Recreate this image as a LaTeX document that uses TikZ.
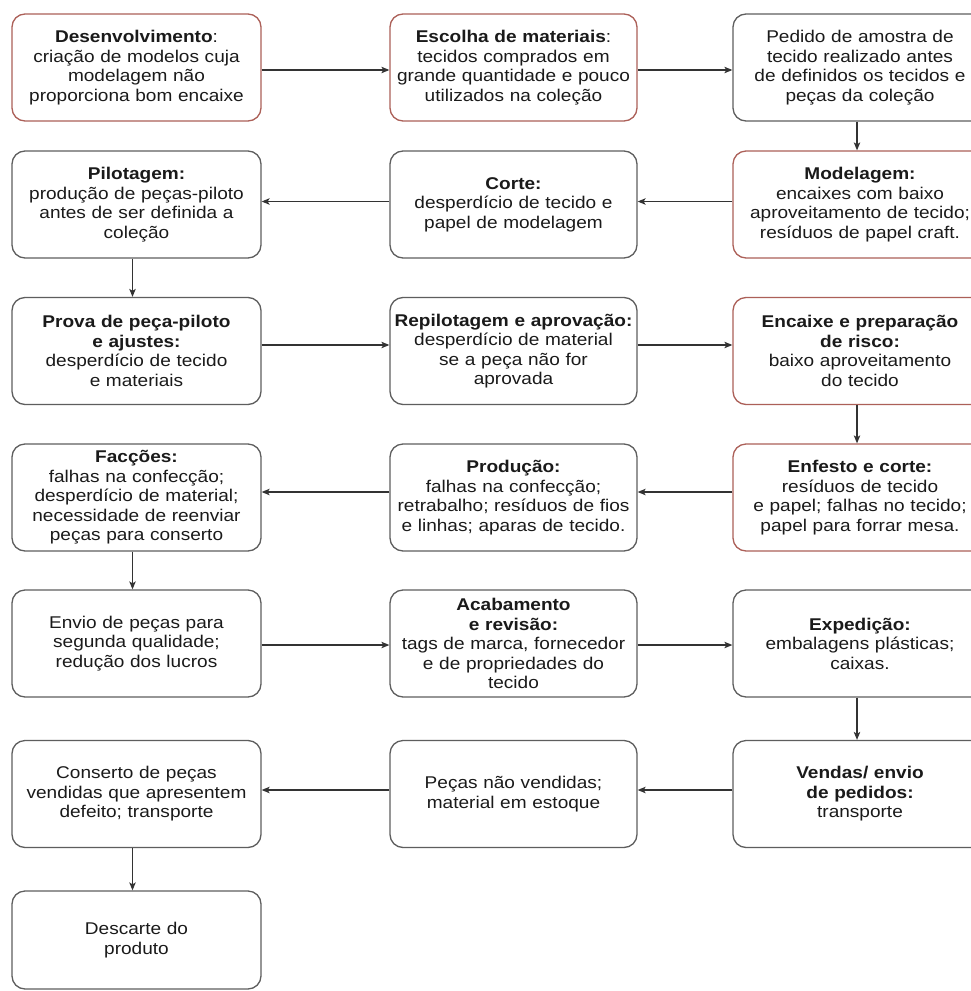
\documentclass[tikz,border=0pt]{standalone}
\usepackage{fontspec}
\setmainfont[FakeStretch=1.12]{Liberation Sans}
\usetikzlibrary{arrows.meta}
\definecolor{boxgray}{HTML}{5E5E5E}
\definecolor{boxred}{RGB}{172,96,88}
\definecolor{arrowgray}{HTML}{333333}
\definecolor{txt}{HTML}{1A1A1A}
\begin{document}
\begin{tikzpicture}[x=1pt,y=-1pt,
  box/.style={draw=boxgray, line width=1.3pt, rounded corners=13pt, fill=white,
    align=center, inner xsep=0pt, inner ysep=0pt, minimum height=107pt,
    text=txt, font=\fontsize{17}{19.5}\selectfont},
  redbox/.style={box, draw=boxred},
  colA/.style={text width=249pt},
  colB/.style={text width=247pt},
  colC/.style={text width=254pt},
  flow/.style={draw=arrowgray, line width=1.1pt,
    -{Stealth[length=8pt,width=6.5pt,inset=2pt]}}]
\clip (0,0) rectangle (971,991);
\fill[white] (0,0) rectangle (971,991);

% row 1
\node[redbox,colA] (n1) at (136.5,67.5) {\textbf{Desenvolvimento}:\\criação de modelos cuja\\modelagem não\\proporciona bom encaixe};
\node[redbox,colB] (n2) at (513.5,67.5) {\textbf{Escolha de materiais}:\\tecidos comprados em\\grande quantidade e pouco\\utilizados na coleção};
\node[box,colC] (n3) at (860,67.5) {Pedido de amostra de\\tecido realizado antes\\de definidos os tecidos e\\peças da coleção};
% row 2
\node[redbox,colC] (n4) at (860,204.5) {\textbf{Modelagem:}\\encaixes com baixo\\aproveitamento de tecido;\\resíduos de papel craft.};
\node[box,colB] (n5) at (513.5,204.5) {\textbf{Corte:}\\desperdício de tecido e\\papel de modelagem\\[4pt]};
\node[box,colA] (n6) at (136.5,204.5) {\textbf{Pilotagem:}\\produção de peças-piloto\\antes de ser definida a\\coleção};
% row 3
\node[box,colA] (n7) at (136.5,351) {\textbf{Prova de peça-piloto}\\\textbf{e ajustes:}\\desperdício de tecido\\e materiais};
\node[box,colB] (n8) at (513.5,351) {\textbf{Repilotagem e aprovação:}\\desperdício de material\\se a peça não for\\aprovada};
\node[redbox,colC] (n9) at (860,351) {\textbf{Encaixe e preparação}\\\textbf{de risco:}\\baixo aproveitamento\\do tecido};
% row 4
\node[redbox,colC] (n10) at (860,497.5) {\textbf{Enfesto e corte:}\\resíduos de tecido\\e papel; falhas no tecido;\\papel para forrar mesa.};
\node[box,colB] (n11) at (513.5,497.5) {\textbf{Produção:}\\falhas na confecção;\\retrabalho; resíduos de fios\\e linhas; aparas de tecido.};
\node[box,colA] (n12) at (136.5,497.5) {\textbf{Facções:}\\falhas na confecção;\\desperdício de material;\\necessidade de reenviar\\peças para conserto};
% row 5
\node[box,colA] (n13) at (136.5,643.5) {Envio de peças para\\segunda qualidade;\\redução dos lucros};
\node[box,colB] (n14) at (513.5,643.5) {\textbf{Acabamento}\\\textbf{e revisão:}\\tags de marca, fornecedor\\e de propriedades do\\tecido};
\node[box,colC] (n15) at (860,643.5) {\textbf{Expedição:}\\embalagens plásticas;\\caixas.};
% row 6
\node[box,colC] (n16) at (860,794) {\textbf{Vendas/ envio}\\\textbf{de pedidos:}\\transporte};
\node[box,colB] (n17) at (513.5,794) {Peças não vendidas;\\material em estoque};
\node[box,colA] (n18) at (136.5,794) {Conserto de peças\\vendidas que apresentem\\defeito; transporte};
% row 7
\node[box,colA,minimum height=98pt] (n19) at (136.5,940) {Descarte do\\produto};

% connectors
\draw[flow] ([yshift=-2.5pt]n1.east) -- ([yshift=-2.5pt]n2.west);
\draw[flow] ([yshift=-2.5pt]n2.east) -- ([yshift=-2.5pt]n3.west);
\draw[flow] ([xshift=-3pt]n3.south) -- ([xshift=-3pt]n4.north);
\draw[flow] ([yshift=3pt]n4.west) -- ([yshift=3pt]n5.east);
\draw[flow] ([yshift=3pt]n5.west) -- ([yshift=3pt]n6.east);
\draw[flow] ([xshift=-4pt]n6.south) -- ([xshift=-4pt]n7.north);
\draw[flow] ([yshift=6pt]n7.east) -- ([yshift=6pt]n8.west);
\draw[flow] ([yshift=6pt]n8.east) -- ([yshift=6pt]n9.west);
\draw[flow] ([xshift=-3pt]n9.south) -- ([xshift=-3pt]n10.north);
\draw[flow] ([yshift=5.5pt]n10.west) -- ([yshift=5.5pt]n11.east);
\draw[flow] ([yshift=5.5pt]n11.west) -- ([yshift=5.5pt]n12.east);
\draw[flow] ([xshift=-4pt]n12.south) -- ([xshift=-4pt]n13.north);
\draw[flow] ([yshift=-1.5pt]n13.east) -- ([yshift=-1.5pt]n14.west);
\draw[flow] ([yshift=-1.5pt]n14.east) -- ([yshift=-1.5pt]n15.west);
\draw[flow] ([xshift=-3pt]n15.south) -- ([xshift=-3pt]n16.north);
\draw[flow] ([yshift=4pt]n16.west) -- ([yshift=4pt]n17.east);
\draw[flow] ([yshift=4pt]n17.west) -- ([yshift=4pt]n18.east);
\draw[flow] ([xshift=-4pt]n18.south) -- ([xshift=-4pt]n19.north);
\end{tikzpicture}
\end{document}
